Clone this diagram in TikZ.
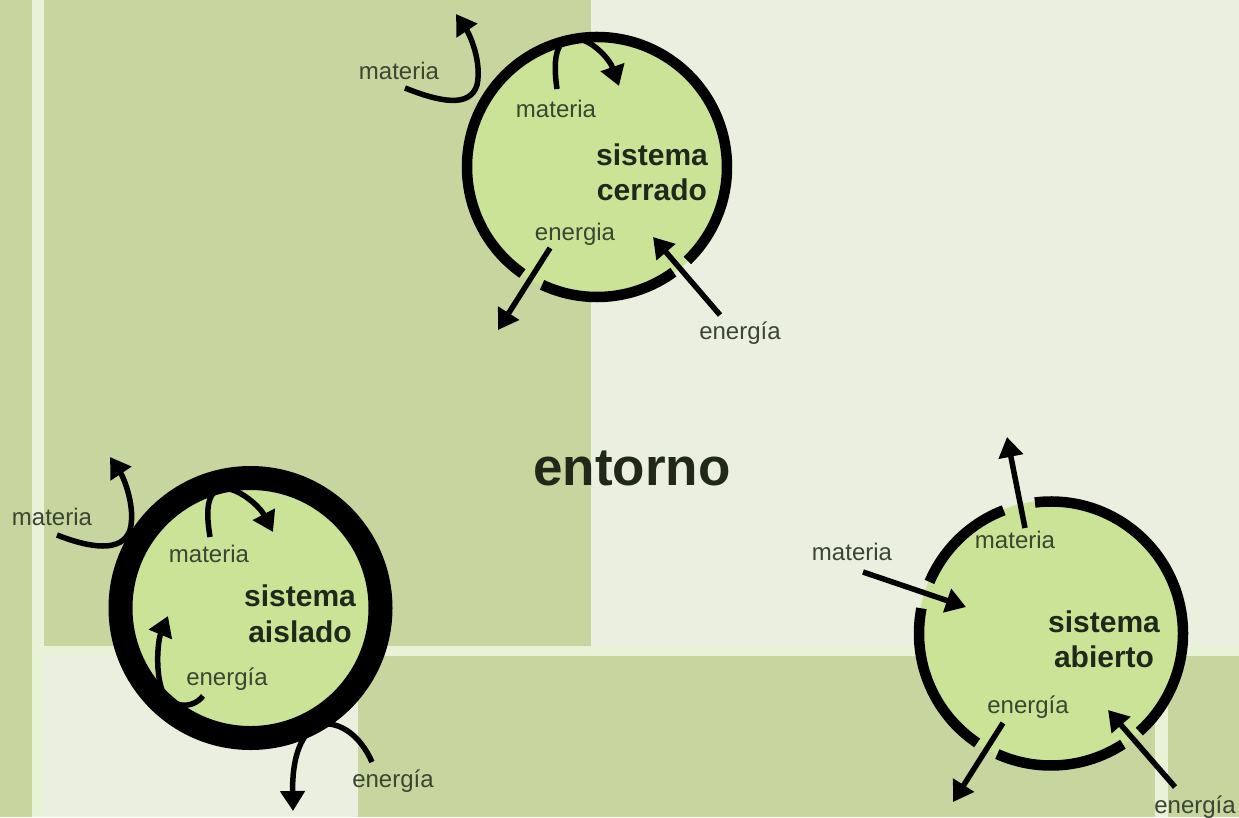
\documentclass[tikz,border=0pt]{standalone}
\usepackage{fontspec}
\setmainfont{Liberation Sans}
\usetikzlibrary{arrows.meta}
\definecolor{bglight}{HTML}{EBEFDF}
\definecolor{bgdark}{HTML}{C6D69E}
\definecolor{bgstrip}{HTML}{E7F2D7}
\definecolor{sysfill}{HTML}{CBE396}
\definecolor{lbl}{HTML}{3A4532}
\definecolor{ttl}{HTML}{20281A}
\begin{document}
\begin{tikzpicture}[x=1pt,y=-1pt,
  lab/.style={text=lbl, font=\fontsize{24}{24}\selectfont, anchor=base, inner sep=0pt},
  sysname/.style={text=ttl, font=\bfseries\fontsize{30}{36}\selectfont, anchor=base, inner sep=0pt},
  flow/.style={line width=5.5pt, -{Triangle[width=24pt,length=20pt]}},
  ring/.style={line width=10.5pt},
]
\useasboundingbox (0,0) rectangle (1239,817);
% background
\fill[bglight] (0,0) rectangle (1239,817);
\fill[bgstrip] (32,0) rectangle (44,817);
\fill[bgstrip] (44,646) rectangle (1239,656);
\fill[bgstrip] (1155,656) rectangle (1168,817);
\fill[bgdark] (0,0) rectangle (32,817);
\fill[bgdark] (44,0) rectangle (591,646);
\fill[bgdark] (358,656) rectangle (1155,817);
\fill[bgdark] (1168,656) rectangle (1239,817);

% ---------- sistema cerrado ----------
\coordinate (cC) at (597,167);
\fill[sysfill] (cC) circle[radius=131];
\draw[ring] (cC) ++(54:130) arc[start angle=54, end angle=115, radius=130];
\draw[ring] (cC) ++(125:130) arc[start angle=125, end angle=406, radius=130];

\coordinate (cMoS) at (405,88);
\coordinate (cMoE) at (456,14);
\draw[flow] (cMoS) .. controls (440,102) and (470,108) .. (477,85) .. controls (482,62) and (470,35) .. (cMoE);
\coordinate (cMiS) at (557,89);
\coordinate (cMiE) at (619,86);
\draw[flow] (cMiS) .. controls (553,62) and (555,40) .. (572,38) .. controls (592,38) and (610,60) .. (cMiE);
\coordinate (cEoS) at (550,248);
\coordinate (cEoE) at (498,330);
\draw[flow] (cEoS) -- (cEoE);
\coordinate (cEiS) at (720,315);
\coordinate (cEiE) at (653,237);
\draw[flow] (cEiS) -- (cEiE);

\node[lab] (cMo) at (399,79) {materia};
\node[lab] (cMi) at (556,117) {materia};
\node[sysname] (cS1) at (652,165) {sistema};
\node[sysname] (cS2) at (652,200) {cerrado};
\node[lab] (cEi) at (575,240) {energia};
\node[lab] (cEo) at (740,339) {energía};

% ---------- sistema aislado ----------
\coordinate (aC) at (250.5,608);
\draw[line width=24pt, fill=sysfill] (aC) circle[radius=130];

\coordinate (aMoS) at (57,535);
\coordinate (aMoE) at (110,457);
\draw[flow] (aMoS) .. controls (90,548) and (122,553) .. (130,530) .. controls (136,508) and (124,478) .. (aMoE);
\coordinate (aMiS) at (210,537);
\coordinate (aMiE) at (273,532);
\draw[flow] (aMiS) .. controls (206,512) and (206,492) .. (222,488) .. controls (240,488) and (260,507) .. (aMiE);
\coordinate (aEiS) at (203,696);
\coordinate (aEiE) at (168,616);
\draw[flow] (aEiS) .. controls (192,710) and (170,708) .. (162,690) .. controls (155,670) and (158,640) .. (aEiE);
\coordinate (aEoS) at (372,762);
\coordinate (aEoE) at (293,811);
\draw[flow] (aEoS) .. controls (360,735) and (340,722) .. (322,724) .. controls (300,730) and (292,760) .. (aEoE);

\node[lab] (aMo) at (52,525) {materia};
\node[lab] (aMi) at (209,562) {materia};
\node[sysname] (aS1) at (300,606) {sistema};
\node[sysname] (aS2) at (300,642) {aislado};
\node[lab] (aEi) at (227,685) {energía};
\node[lab] (aEo) at (393,787) {energía};

% ---------- sistema abierto ----------
\coordinate (bC) at (1051,633.5);
\fill[sysfill] (bC) circle[radius=133];
\draw[ring] (bC) ++(57:132) arc[start angle=57, end angle=114, radius=132];
\draw[ring] (bC) ++(124:132) arc[start angle=124, end angle=191, radius=132];
\draw[ring] (bC) ++(203:132) arc[start angle=203, end angle=249, radius=132];
\draw[ring] (bC) ++(263:132) arc[start angle=263, end angle=408, radius=132];

\coordinate (bMoS) at (1025,528);
\coordinate (bMoE) at (1007,437);
\draw[flow] (bMoS) -- (bMoE);
\coordinate (bMiS) at (863,572);
\coordinate (bMiE) at (966,607);
\draw[flow] (bMiS) -- (bMiE);
\coordinate (bEoS) at (1003,723);
\coordinate (bEoE) at (953,802);
\draw[flow] (bEoS) -- (bEoE);
\coordinate (bEiS) at (1175,787);
\coordinate (bEiE) at (1108,710);
\draw[flow] (bEiS) -- (bEiE);

\node[lab] (bMo) at (852,560) {materia};
\node[lab] (bMi) at (1015,548) {materia};
\node[sysname] (bS1) at (1104,632) {sistema};
\node[sysname] (bS2) at (1104,667) {abierto};
\node[lab] (bEi) at (1028,713) {energía};
\node[lab] (bEo) at (1195,813) {energía};

% ---------- entorno ----------
\node[text=ttl, font=\bfseries\fontsize{53}{60}\selectfont, anchor=base, inner sep=0pt] (ent) at (632,485) {entorno};
\end{tikzpicture}
\end{document}
